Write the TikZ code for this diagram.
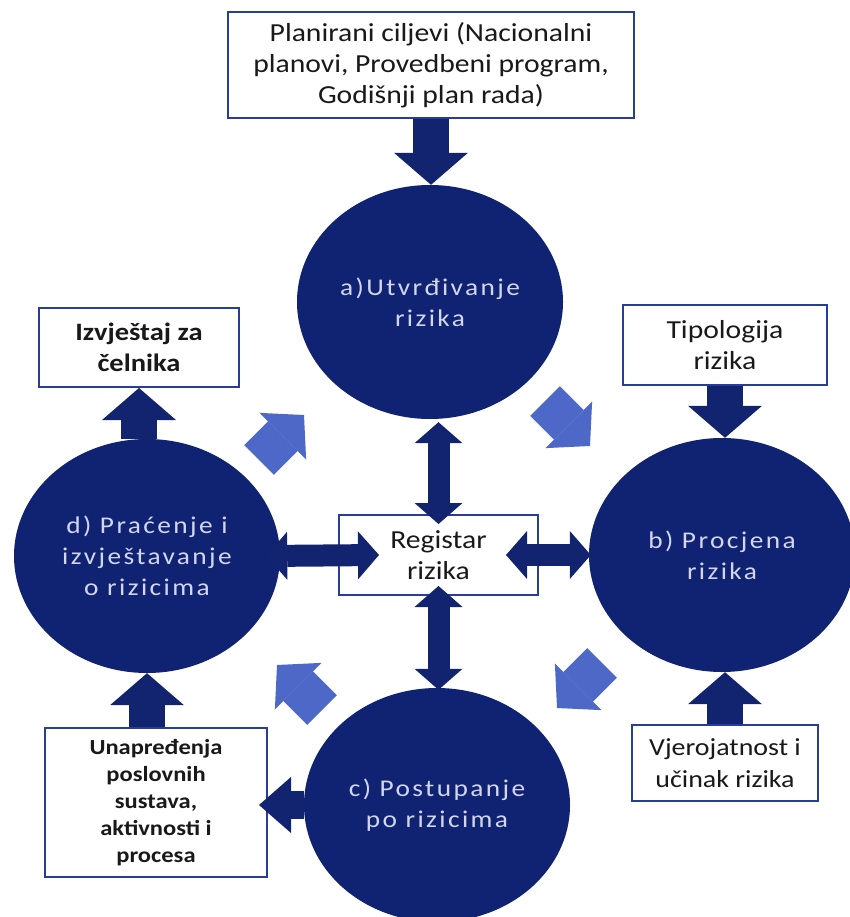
\documentclass[tikz,border=0pt]{standalone}
\usepackage{fontspec}
\setmainfont[FakeStretch=1.14]{Carlito}
\newfontfamily\circfont[FakeStretch=1.14,LetterSpace=10]{Carlito}
\usetikzlibrary{arrows.meta,shapes.geometric}
\definecolor{navy}{RGB}{18,36,112}
\definecolor{circnavy}{RGB}{16,34,114}
\definecolor{lightarr}{RGB}{78,104,200}
\definecolor{boxline}{RGB}{40,62,150}
\definecolor{circtext}{RGB}{210,214,240}
\definecolor{boxtext}{RGB}{25,25,25}
\begin{document}
\begin{tikzpicture}[x=1pt,y=-1pt,
 box/.style={draw=boxline,line width=2pt,fill=white,inner sep=0pt,align=center,text=boxtext,font=\fontsize{26}{31}\selectfont},
 circ/.style={ellipse,fill=circnavy,inner sep=0pt,minimum width=266pt,minimum height=234pt,align=center,text=circtext,font=\circfont\fontsize{24}{31}\selectfont},
 bigarrow/.style={draw=navy,line width=36pt,-{Triangle[width=74pt,length=32pt,line width=0pt]}},
 sidearrow/.style={draw=navy,line width=28pt,-{Triangle[width=56pt,length=32pt,line width=0pt]}},
 dblarrow/.style={draw=navy,line width=22pt,{Triangle[width=48pt,length=21pt,line width=0pt]}-{Triangle[width=48pt,length=21pt,line width=0pt]}},
 cycarrow/.style={draw=lightarr,line width=42pt,-{Triangle[width=66pt,length=30pt,line width=0pt]}},
]
\useasboundingbox (0,0) rectangle (849,917);
\fill[white] (0,0) rectangle (849,917);

% circles
\node[circ] (a) at (430,302) {a)Utvrđivanje\\rizika};
\node[circ] (d) at (147,556) {d) Praćenje i\\izvještavanje\\o rizicima};
\node[circ] (b) at (722,555) {b) Procjena\\rizika};
\node[circ] (c) at (437,805) {c) Postupanje\\po rizicima};

% boxes
\node[box,minimum width=406pt,minimum height=106pt] (plan) at (431,65) {Planirani ciljevi (Nacionalni\\planovi, Provedbeni program,\\Godišnji plan rada)};
\node[box,font=\bfseries\fontsize{25}{31}\selectfont,minimum width=200pt,minimum height=79pt] (izv) at (139,347.5) {Izvještaj za\\čelnika};
\node[box,minimum width=204pt,minimum height=80pt] (tip) at (725,345) {Tipologija\\rizika};
\node[box,minimum width=199pt,minimum height=80pt] (reg) at (438.5,555) {Registar\\rizika};
\node[box,font=\bfseries\fontsize{21.5}{27}\selectfont,minimum width=222pt,minimum height=149pt] (una) at (156,802.5) {Unapređenja\\poslovnih\\sustava,\\aktivnosti i\\procesa};
\node[box,font=\fontsize{24.5}{32}\selectfont,minimum width=186pt,minimum height=76pt] (vje) at (725,763) {Vjerojatnost i\\učinak rizika};

% big single arrows
\draw[bigarrow] (plan.south) -- (plan.south |- a.north);
\draw[bigarrow] (tip.south) -- (tip.south |- b.north);
\draw[bigarrow] (izv.south |- d.north) -- (izv.south);
\draw[bigarrow] (d.south |- una.north) -- (d.south);
\draw[bigarrow] (vje.north) -- (vje.north |- b.south);
\draw[sidearrow] (c.west) -- ([xshift=-9pt]una.east |- c.west);

% double arrows to the register
\draw[dblarrow] ([yshift=-3pt]reg.north |- a.south) -- ([yshift=-10pt]reg.north);
\draw[dblarrow] ([yshift=10pt]reg.south) -- ([yshift=-2pt]reg.south |- c.north);
\draw[dblarrow] ([xshift=-14pt]d.east) -- ([xshift=41pt]reg.west);
\draw[dblarrow] ([xshift=-33pt]reg.east) -- ([xshift=2pt]b.west);

% cycle arrows
\coordinate (ab1) at (545,401); \coordinate (ab2) at (590,446);
\coordinate (bc1) at (602,663); \coordinate (bc2) at (557,708);
\coordinate (cd1) at (322,710); \coordinate (cd2) at (277,665);
\coordinate (da1) at (259,460); \coordinate (da2) at (304,415);
\draw[cycarrow] (ab1) -- (ab2);
\draw[cycarrow] (bc1) -- (bc2);
\draw[cycarrow] (cd1) -- (cd2);
\draw[cycarrow] (da1) -- (da2);
\end{tikzpicture}
\end{document}
